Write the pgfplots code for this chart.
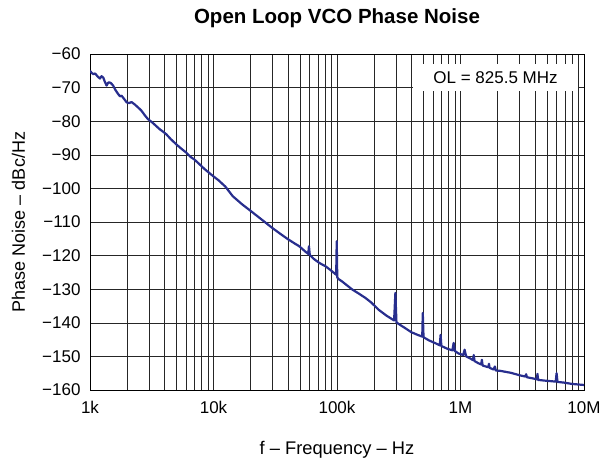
\documentclass[border=0pt]{standalone}
\usepackage{fontspec}
\setmainfont{Liberation Sans}
\usepackage{pgfplots}
\pgfplotsset{compat=1.18}
\definecolor{curve}{RGB}{40,46,142}
\begin{document}
\begin{tikzpicture}
\useasboundingbox (-90pt,-69pt) rectangle (516pt,390pt);
\begin{axis}[
  scale only axis,
  width=494pt, height=336pt,
  xmode=log,
  xmin=1e3, xmax=1e7,
  ymin=-160, ymax=-60,
  xtick={1e3,1e4,1e5,1e6,1e7},
  xticklabels={1k,10k,100k,1M,10M},
  ytick={-160,-150,-140,-130,-120,-110,-100,-90,-80,-70,-60},
  yticklabels={−160,−150,−140,−130,−120,−110,−100,−90,−80,−70,−60},
  minor xtick={2e3,3e3,4e3,5e3,6e3,7e3,8e3,9e3,2e4,3e4,4e4,5e4,6e4,7e4,8e4,9e4,2e5,3e5,4e5,5e5,6e5,7e5,8e5,9e5,2e6,3e6,4e6,5e6,6e6,7e6,8e6,9e6},
  grid=both,
  major grid style={black!85, line width=0.6pt},
  minor grid style={black!85, line width=0.6pt},
  major tick length=0pt, minor tick length=0pt,
  axis line style={black, line width=1pt},
  tick label style={font=\fontsize{17}{20}\selectfont},
  yticklabel style={anchor=east, xshift=-6pt},
  xticklabel style={anchor=north, yshift=-8pt},
  title={Open Loop VCO Phase Noise},
  title style={font=\bfseries\fontsize{20.5}{24}\selectfont, at={(axis description cs:0.5,1.0744)}, anchor=base},
  xlabel={f – Frequency – Hz},
  xlabel style={font=\fontsize{18.3}{21}\selectfont, at={(axis description cs:0.5,-0.1905)}, anchor=base},
  ylabel={Phase Noise – dBc/Hz},
  ylabel style={font=\fontsize{18}{21}\selectfont, at={(axis description cs:-0.1316,0.5)}, anchor=base},
]
\addplot[curve, line width=2.2pt, line join=round] table {
1000 -65.0
1030 -65.6
1063 -66.0
1100 -65.8
1130 -66.3
1160 -66.8
1204 -67.3
1240 -66.6
1280 -67.0
1320 -68.3
1363 -69.4
1400 -68.6
1430 -68.4
1480 -68.7
1540 -69.4
1600 -70.6
1690 -71.9
1750 -72.6
1800 -72.4
1900 -73.5
1980 -74.4
2070 -74.6
2170 -74.3
2300 -75.0
2450 -75.9
2600 -76.8
2800 -78.4
2950 -79.4
3200 -80.4
3450 -81.5
3670 -82.4
3900 -83.1
4150 -83.9
4500 -85.3
5000 -86.9
5500 -88.2
5990 -89.3
6500 -90.6
7000 -91.4
7700 -92.8
8500 -94.3
9900 -96.3
11000 -97.6
12500 -99.5
14300 -102.3
17000 -104.7
20000 -106.7
25000 -109.5
30000 -111.8
35000 -113.6
40000 -115.1
45000 -116.3
49400 -117.2
55000 -118.7
58500 -119.5
59300 -117.2
60200 -119.8
65000 -121.0
72000 -122.2
81000 -123.2
90000 -124.5
97000 -125.5
98500 -125.7
99500 -115.7
100500 -126.5
103000 -127.0
110000 -127.7
120000 -128.8
133000 -130.1
150000 -131.3
170000 -132.6
190000 -134.0
217000 -136.1
250000 -137.8
290000 -139.3
297000 -131.1
303000 -139.9
330000 -140.8
357000 -141.6
400000 -142.8
450000 -143.6
490000 -144.1
495000 -137.1
502000 -144.3
560000 -145.3
620000 -146.0
680000 -146.7
690000 -143.6
700000 -146.9
780000 -147.7
860000 -148.2
880000 -146.0
900000 -148.4
960000 -149.1
1050000 -149.6
1080000 -148.0
1110000 -150.0
1200000 -150.6
1260000 -151.1
1280000 -149.6
1300000 -151.4
1390000 -152.0
1470000 -152.4
1490000 -151.0
1510000 -152.7
1600000 -153.0
1680000 -153.2
1700000 -152.2
1720000 -153.4
1850000 -153.9
1900000 -153.0
1930000 -154.2
2100000 -154.3
2570000 -154.9
3000000 -155.6
3350000 -156.0
3400000 -155.3
3450000 -156.2
3800000 -156.5
4150000 -156.8
4200000 -155.2
4250000 -157.0
4800000 -157.2
5900000 -157.5
6000000 -155.0
6100000 -157.6
6900000 -157.8
8000000 -158.2
10000000 -158.5
};
\node[fill=white, minimum width=165pt, minimum height=27pt, inner sep=0pt, font=\fontsize{17}{20}\selectfont] at (rel axis cs:0.821,0.93) {OL = 825.5 MHz};
\end{axis}
\end{tikzpicture}
\end{document}
